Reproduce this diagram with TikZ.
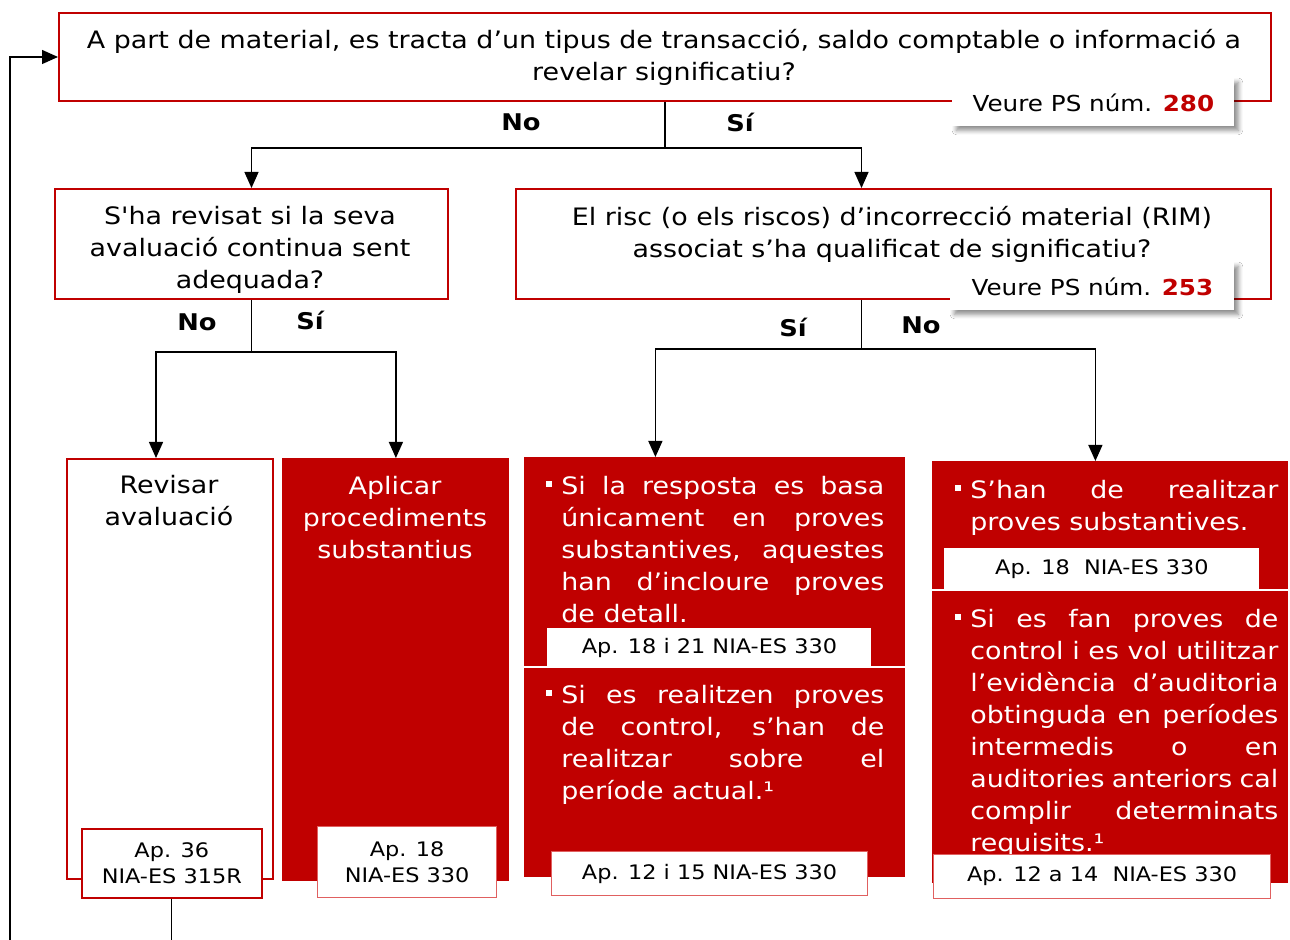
\documentclass[tikz,border=0pt]{standalone}
\usepackage{fontspec}
\setmainfont{DejaVu Sans}[Ligatures=TeXOff, FakeStretch=1.12]
\usetikzlibrary{arrows.meta,shadows,shadows.blur}
\definecolor{rd}{HTML}{C00000}
\definecolor{lrd}{HTML}{E06060}
\tikzset{
  qbox/.style={draw=rd, line width=1pt, fill=white, inner sep=0pt, anchor=north west},
  rbox/.style={fill=rd, inner sep=0pt, anchor=north west},
  txt/.style={align=center, inner sep=0pt, font=\fontsize{12}{16}\selectfont},
  wtxt/.style={txt, text=white},
  btxt/.style={inner sep=0pt, anchor=north west, align=justify, text=white, font=\fontsize{12}{16}\selectfont},
  bsq/.style={fill=white, inner sep=0pt, minimum size=2.8pt},
  yn/.style={inner sep=0pt, font=\fontsize{11.5}{14}\selectfont\bfseries},
  psbox/.style={fill=white, inner sep=0pt, anchor=north west, font=\fontsize{11}{14}\selectfont,
     blur shadow={shadow xshift=2pt, shadow yshift=-2pt, shadow blur steps=6, shadow blur extra rounding=0pt, shadow opacity=45}},
  lab/.style={fill=white, inner sep=0pt, anchor=north west, align=center, font=\fontsize{10}{13}\selectfont},
  arr/.style={draw=black, line width=0.65pt, -{Triangle[length=8pt,width=7pt]}},
  ln/.style={draw=black, line width=0.65pt}
}
\begin{document}
\begin{tikzpicture}[x=0.5pt,y=-0.5pt]
\useasboundingbox[fill=white] (0,0) rectangle (1290,940);

% top question
\node[qbox, minimum width=606pt, minimum height=44pt] (top) at (58,12) {};
\node[txt] (toptxt) at (664,57) {A part de material, es tracta d’un tipus de transacció, saldo comptable o informació a\\revelar significatiu?};
\node[psbox, minimum width=141pt, minimum height=24pt] (ps1) at (952,78) {Veure PS núm. \textbf{\color{rd}280}};

% second level questions
\node[qbox, minimum width=196.5pt, minimum height=55pt] (lq) at (54,188) {};
\node[txt] (lqtxt) at (250,250) {S'ha revisat si la seva\\avaluació continua sent\\adequada?};
\node[qbox, minimum width=377.5pt, minimum height=55pt] (rq) at (515,188) {};
\node[txt] (rqtxt) at (892,234) {El risc (o els riscos) d’incorrecció material (RIM)\\associat s’ha qualificat de significatiu?};
\node[psbox, minimum width=142pt, minimum height=24pt] (ps2) at (950,262) {Veure PS núm. \textbf{\color{rd}253}};

% bottom boxes
\node[qbox, minimum width=103pt, minimum height=210pt] (rev) at (66,458) {};
\node[txt] (revtxt) at (169,501) {Revisar\\avaluació};
\node[lab, draw=rd, line width=0.8pt, minimum width=90pt, minimum height=34.5pt] (lab36) at (81,828) {Ap. 36\\NIA-ES 315R};

\node[rbox, minimum width=113.5pt, minimum height=211.5pt] (apl) at (282,458) {};
\node[wtxt] (apltxt) at (395,518) {Aplicar\\procediments\\substantius};
\node[lab, draw=lrd, line width=0.6pt, minimum width=89.5pt, minimum height=35.5pt] (lab18) at (317,826) {Ap. 18\\NIA-ES 330};

\node[rbox, minimum width=190.5pt, minimum height=210pt] (b3) at (524,457) {};
\node[bsq] (b3s1) at (549,484) {};
\node[btxt, text width=161.5pt] (b3t1) at (561,476) {Si la resposta es basa\linebreak únicament en proves\linebreak substantives, aquestes\linebreak han d’incloure proves\linebreak de detall.};
\draw[white, line width=1pt] (b3.west |- 0,667) -- (b3.east |- 0,667);
\node[lab, minimum width=162pt, minimum height=20pt] (lab1821) at (547,628) {Ap. 18 i 21 NIA-ES 330};
\node[bsq] (b3s2) at (549,693) {};
\node[btxt, text width=161.5pt] (b3t2) at (561,685) {Si es realitzen proves\linebreak de control, s’han de\linebreak realitzar sobre el\linebreak període actual.¹};
\node[lab, draw=lrd, line width=0.6pt, minimum width=158pt, minimum height=22pt] (lab1215) at (551,851) {Ap. 12 i 15 NIA-ES 330};

\node[rbox, minimum width=178pt, minimum height=211pt] (b4) at (932,461) {};
\node[bsq] (b4s1) at (958,488) {};
\node[btxt, text width=154pt] (b4t1) at (970,480) {S’han de realitzar\linebreak proves substantives.};
\draw[white, line width=1pt] (b4.west |- 0,590) -- (b4.east |- 0,590);
\node[lab, minimum width=157.5pt, minimum height=21pt] (lab18b) at (944,548) {Ap. 18\ \ NIA-ES 330};
\node[bsq] (b4s2) at (958,617) {};
\node[btxt, text width=154pt] (b4t2) at (970,609) {Si es fan proves de\linebreak control i es vol utilitzar\linebreak l’evidència d’auditoria\linebreak obtinguda en períodes\linebreak intermedis o en\linebreak auditories anteriors cal\linebreak complir determinats\linebreak requisits.¹};
\node[lab, draw=lrd, line width=0.6pt, minimum width=168.5pt, minimum height=22pt] (lab1214) at (933,854) {Ap. 12 a 14\ \ NIA-ES 330};

% connectors level 1
\draw[ln] (top.south) -- ++(0,46) coordinate (s1);
\draw[arr] (s1) -| (lq.north);
\draw[arr] (s1) -| ([xshift=-16pt]rq.north);
\node[yn] (no1) at (521,122) {No};
\node[yn] (si1) at (740,122) {Sí};

% connectors level 2 left
\draw[ln] (lq.south) -- ++(0,52) coordinate (s2);
\draw[arr] (s2) -| ([xshift=-7pt]rev.north);
\draw[arr] (s2) -| (apl.north);
\node[yn] (no2) at (197,322) {No};
\node[yn] (si2) at (310,320) {Sí};

% connectors level 2 right
\draw[ln] ([xshift=-16pt]rq.south) -- ++(0,49) coordinate (s3);
\draw[arr] (s3) -| ([xshift=-29.75pt]b3.north);
\draw[arr] (s3) -| ([xshift=-7.5pt]b4.north);
\node[yn] (si3) at (793,327) {Sí};
\node[yn] (no3) at (921,325) {No};

% feedback loop
\coordinate (fb) at (10,57);
\draw[arr] (lab36.south) -- ++(0,80) -| (fb) -- (top.west);
\end{tikzpicture}
\end{document}
